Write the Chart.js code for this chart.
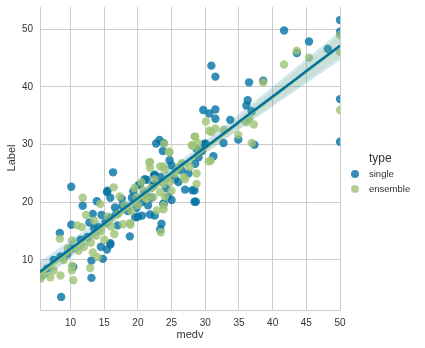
<!DOCTYPE html>
<html>
<head>
<meta charset="utf-8">
<script src="https://cdn.jsdelivr.net/npm/chart.js@4/dist/chart.umd.min.js"></script>
<style>
  html, body { margin: 0; padding: 0; background: #fff; }
  #wrap { position: relative; width: 425px; height: 348px; font-family: "Liberation Sans", Arial, sans-serif; color: #333; }
  #wrap canvas { position: absolute; left: 0; top: 0; }
  .lbl { position: absolute; white-space: nowrap; }
  #ylab { left: 11px; top: 158px; font-size: 11px; transform: translate(-50%, -50%) rotate(-90deg); }
  #xlab { left: 190px; top: 334px; font-size: 11px; transform: translate(-50%, -50%); }
  #legtitle { left: 369px; top: 151px; font-size: 12px; }
  .legrow { position: absolute; left: 351px; font-size: 9.5px; }
  .legrow i { display: inline-block; width: 8px; height: 8px; border-radius: 50%; margin-right: 10px; vertical-align: -1px; }
</style>
</head>
<body>
<div id="wrap">
  <canvas id="chart" width="425" height="348"></canvas>
  <div class="lbl" id="ylab">Label</div>
  <div class="lbl" id="xlab">medv</div>
  <div class="lbl" id="legtitle">type</div>
  <div class="legrow" style="top:168px"><i style="background:rgba(2,114,162,0.8)"></i>single</div>
  <div class="legrow" style="top:183px"><i style="background:rgba(159,195,119,0.8)"></i>ensemble</div>
</div>
<script>
// Axis ticks
const xTicks = [10, 15, 20, 25, 30, 35, 40, 45, 50];
const yTicks = [10, 20, 30, 40, 50];

// medv (true value) vs predicted label, "single" model
const singleMedv = [
  41.7, 50, 50, 45.4, 48.2, 43.6, 30.9, 31.5, 36.5, 38.6, 50, 50, 36.3, 36.1, 36.9, 29.7,
  30.6, 31.5, 31.5, 33.7, 34.9, 37.3, 32.7, 29.9, 31.2, 28.7,
  22.7, 23.8, 23.7, 24.7, 22.5, 21.3, 20.1, 19.3, 22.3, 23.3, 25.0, 27.0, 28.1, 28.6,
  25.0, 23.8, 21.8, 22.5, 20.6, 19.6, 23.5, 23.3, 18.8, 17.7, 29.5, 29.0, 28.5, 30.0,
  10.1, 11.8, 15.4, 15.9, 13.3, 10.1, 8.4, 10.1, 15.9, 15.4, 14.8, 13.1, 13.1, 10.4,
  8.6, 8.5, 14.1, 14.5, 17.6, 19.1, 16.3, 15.5, 13.9, 20.3, 22.4, 23.8, 20.0, 15.9,
  16.6, 14.6, 15.2, 15.9, 21.0, 22.0, 24.2, 25.5, 26.5, 19.8, 18.5, 17.0, 12.5, 13.5,
  11.5, 7.5, 9.5, 24.5, 26.0, 21.5, 20.5, 27.5, 12.8, 16.8, 6.5, 21.0, 28.4, 28.4,
  22.4, 23.2
];
const singleLabel = [
  49.8, 51.6, 49.6, 47.9, 46.6, 45.9, 43.7, 41.8, 40.8, 41.1, 37.9, 30.5, 37.7, 36.8, 35.8, 36.0,
  35.4, 36.1, 34.5, 34.3, 30.9, 30.0, 30.3, 30.1, 28.0, 29.3,
  30.2, 30.3, 28.9, 27.3, 24.8, 23.9, 23.0, 21.9, 23.0, 24.4, 26.4, 22.2, 22.1, 20.1,
  20.4, 19.8, 17.9, 17.7, 17.7, 17.4, 16.3, 15.3, 14.1, 19.4, 28.9, 27.8, 26.7, 30.2,
  22.7, 19.4, 21.8, 20.8, 18.0, 16.1, 14.7, 12.0, 12.7, 11.8, 10.2, 9.9, 6.9, 8.8,
  3.6, 10.6, 15.7, 12.3, 20.6, 20.8, 25.2, 22.0, 20.2, 23.0, 23.1, 19.7, 17.5, 12.9,
  19.1, 17.8, 16.5, 17.3, 21.5, 20.8, 22.5, 24.0, 25.5, 19.0, 18.5, 16.0, 14.0, 15.5,
  13.5, 10.0, 11.0, 21.0, 23.5, 19.5, 20.0, 25.0, 16.5, 18.0, 8.5, 24.0, 22.1, 20.1,
  24.7, 30.8
];

// medv vs predicted label, "ensemble" model
const ensembleMedv = [
  50, 50, 43.6, 45.4, 41.7, 38.6, 50, 30.1, 36.1, 37.2, 36.5, 31.5, 32.7, 30.9, 34.9, 28.4,
  36.9, 28.1, 28.9,
  28.5, 24.7, 28.0, 21.7, 21.8, 23.3, 24.0, 24.3, 23.8, 23.3, 22.3, 21.3, 20.8, 19.8,
  27.7, 28.7, 28.7, 26.8, 30.5, 23.8, 22.8, 18.9, 23.4,
  11.8, 16.4, 17.3, 14.4, 11.7, 8.4, 10.2, 11.2, 13.3, 12.9, 10.4, 10.2, 8.5, 7.0,
  10.2, 7.5, 18.8, 21.8, 23.9, 24.6, 30.6, 30.8, 23.8,
  20.0, 21.0, 22.0, 24.8, 25.5, 26.5, 19.0, 18.0, 17.0, 15.5, 14.5, 13.8, 13.0, 12.0,
  15.0, 16.5, 9.0, 6.0, 5.6, 25.0, 27.0, 22.5, 20.5, 19.5, 24.0, 17.8, 13.5, 12.3,
  11.0, 9.6, 14.0, 16.0, 23.8, 26.0, 29.0
];
const ensembleLabel = [
  49.0, 46.1, 46.3, 45.1, 43.9, 40.8, 36.0, 34.0, 33.9, 33.5, 34.4, 32.8, 32.6, 32.2, 31.7, 31.4,
  30.3, 29.8, 30.3,
  31.4, 28.7, 29.9, 26.9, 26.0, 26.2, 25.6, 24.1, 23.2, 21.8, 20.9, 20.6, 22.1, 20.9,
  26.1, 25.0, 23.2, 24.4, 27.1, 18.8, 18.6, 16.1, 14.8,
  20.8, 22.6, 21.0, 19.7, 15.7, 13.7, 13.4, 11.6, 11.3, 8.6, 6.5, 8.2, 7.3, 7.0,
  9.0, 8.2, 16.4, 27.0, 30.2, 28.8, 32.4, 27.2, 26.2,
  19.5, 21.0, 22.5, 23.5, 25.0, 26.8, 18.5, 19.5, 18.0, 17.5, 15.0, 14.2, 13.0, 12.3,
  13.5, 14.5, 10.0, 7.5, 6.8, 22.0, 24.0, 24.0, 23.5, 22.5, 21.0, 16.2, 16.8, 17.8,
  16.0, 12.0, 10.5, 15.8, 19.5, 26.0, 29.0
];

const xMin = 5.46, xMax = 50;
const yMin = 1.33, yMax = 53.87;

const BLUE = [2, 114, 162];
const GREEN = [159, 195, 119];
const rgba = (c, a) => `rgba(${c[0]},${c[1]},${c[2]},${a})`;

function toPoints(xs, ys) {
  return xs.map((x, i) => ({ x: x, y: ys[i] }));
}

// Least squares fit with a 95% confidence band for the mean
function fitLine(xs, ys) {
  const n = xs.length;
  const mx = xs.reduce((a, b) => a + b, 0) / n;
  const my = ys.reduce((a, b) => a + b, 0) / n;
  let sxx = 0, sxy = 0;
  xs.forEach((x, i) => { sxx += (x - mx) * (x - mx); sxy += (x - mx) * (ys[i] - my); });
  const slope = sxy / sxx;
  const icpt = my - slope * mx;
  let sse = 0;
  xs.forEach((x, i) => { const r = ys[i] - (icpt + slope * x); sse += r * r; });
  const s = Math.sqrt(sse / (n - 2));
  const t = 1.985;
  const line = [], upper = [], lower = [];
  const steps = 60;
  for (let k = 0; k <= steps; k++) {
    const x = xMin + (xMax - xMin) * k / steps;
    const yh = icpt + slope * x;
    const half = t * s * Math.sqrt(1 / n + (x - mx) * (x - mx) / sxx);
    line.push({ x: x, y: yh });
    upper.push({ x: x, y: yh + half });
    lower.push({ x: x, y: yh - half });
  }
  return { line, upper, lower };
}

const singleFit = fitLine(singleMedv, singleLabel);
const ensembleFit = fitLine(ensembleMedv, ensembleLabel);

function bandSets(fit, col, ord) {
  return [
    { data: fit.upper, showLine: true, pointRadius: 0, borderWidth: 0, borderColor: 'transparent',
      backgroundColor: rgba(col, 0.18), fill: '+1', order: ord },
    { data: fit.lower, showLine: true, pointRadius: 0, borderWidth: 0, borderColor: 'transparent',
      fill: false, order: ord }
  ];
}

new Chart(document.getElementById('chart'), {
  type: 'scatter',
  data: {
    datasets: [
      { label: 'single', data: toPoints(singleMedv, singleLabel), backgroundColor: rgba(BLUE, 0.8),
        borderWidth: 0, pointRadius: 4.2, pointHoverRadius: 4.2, order: 20 },
      { label: 'ensemble', data: toPoints(ensembleMedv, ensembleLabel), backgroundColor: rgba(GREEN, 0.8),
        borderWidth: 0, pointRadius: 4.2, pointHoverRadius: 4.2, order: 19 },
      ...bandSets(singleFit, BLUE, 10),
      ...bandSets(ensembleFit, GREEN, 9),
      { data: ensembleFit.line, showLine: true, pointRadius: 0, borderColor: rgba(GREEN, 1), borderWidth: 2.5, order: 2 },
      { data: singleFit.line, showLine: true, pointRadius: 0, borderColor: rgba(BLUE, 1), borderWidth: 2.5, order: 1 }
    ]
  },
  options: {
    responsive: false,
    animation: false,
    events: [],
    layout: { padding: { left: 0, top: 7, right: 85, bottom: 0 } },
    plugins: { legend: { display: false }, tooltip: { enabled: false } },
    scales: {
      x: {
        type: 'linear', min: xMin, max: xMax,
        afterBuildTicks: (s) => { s.ticks = xTicks.map(v => ({ value: v })); },
        afterFit: (s) => { s.height = 38; s.paddingLeft = 0; s.paddingRight = 0; },
        grid: { color: '#cccccc', lineWidth: 1, drawTicks: false },
        border: { display: true, color: '#cccccc', width: 1 },
        ticks: { padding: 7, color: '#333', font: { family: 'Liberation Sans', size: 10 } }
      },
      y: {
        type: 'linear', min: yMin, max: yMax,
        afterBuildTicks: (s) => { s.ticks = yTicks.map(v => ({ value: v })); },
        afterFit: (s) => { s.width = 40; s.paddingTop = 0; s.paddingBottom = 0; },
        grid: { color: '#cccccc', lineWidth: 1, drawTicks: false },
        border: { display: true, color: '#cccccc', width: 1 },
        ticks: { padding: 7, color: '#333', font: { family: 'Liberation Sans', size: 10 } }
      }
    }
  }
});
</script>
</body>
</html>
